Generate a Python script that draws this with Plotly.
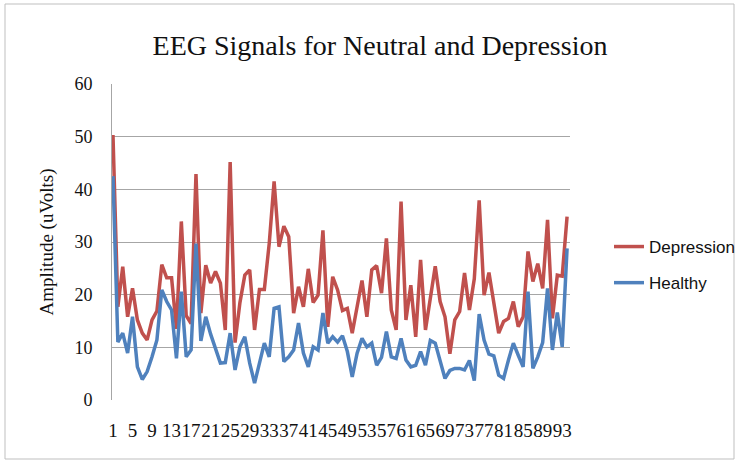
import plotly.graph_objects as go

# ---- data ----
sample_index = list(range(1, 95))
depression = [50.3, 17.7, 25.3, 15.8, 21.2, 15.2, 12.7, 11.4, 15.2, 16.9,
              25.7, 23.2, 23.2, 13.5, 33.9, 16.0, 14.5, 42.9, 16.5, 25.6,
              22.2, 24.4, 22.2, 13.3, 45.2, 10.9, 18.5, 23.7, 24.7, 13.3,
              21.0, 21.0, 29.7, 41.5, 29.1, 33.0, 31.0, 16.5, 21.5, 17.7,
              24.9, 18.5, 19.9, 32.2, 13.9, 23.4, 20.9, 17.0, 17.4, 12.7,
              17.7, 22.7, 15.8, 24.7, 25.5, 20.3, 30.7, 17.1, 13.3, 37.7,
              15.2, 21.8, 12.0, 26.6, 13.3, 19.0, 25.4, 18.7, 15.8, 8.8,
              15.2, 16.8, 24.1, 17.1, 23.0, 37.9, 19.9, 24.2, 18.7, 12.7,
              14.9, 15.5, 18.7, 13.9, 15.8, 28.2, 22.5, 25.9, 21.2, 34.2,
              15.5, 23.7, 23.5, 34.8]
healthy = [42.5, 11.0, 12.7, 8.9, 15.8, 6.3, 3.9, 5.4, 8.2, 11.4,
           20.9, 18.7, 17.1, 7.9, 20.6, 8.2, 9.5, 29.7, 11.2, 15.8,
           12.5, 9.5, 7.0, 7.1, 12.7, 5.7, 10.1, 12.0, 7.0, 3.2,
           6.8, 10.8, 8.2, 17.4, 17.7, 7.3, 8.2, 9.5, 14.6, 8.9,
           6.3, 10.1, 9.5, 16.5, 10.8, 12.0, 11.0, 12.2, 9.2, 4.4,
           8.9, 11.7, 10.1, 10.8, 6.6, 8.1, 13.0, 8.2, 7.9, 11.7,
           7.6, 6.3, 6.6, 9.2, 6.6, 11.3, 10.8, 7.6, 4.1, 5.6,
           6.0, 6.0, 5.7, 7.5, 3.7, 16.3, 11.4, 8.7, 8.4, 4.7,
           4.1, 7.6, 10.8, 8.5, 6.3, 20.6, 6.0, 8.2, 10.9, 21.2,
           9.5, 16.6, 10.1, 28.8]
tick_values = list(range(1, 95, 4))
tick_labels = [str(v) for v in tick_values]

W, H = 741, 461
L, R, T, B = 112, 570, 84, 400
pw, ph = R - L, B - T

fig = go.Figure()
fig.add_trace(go.Scatter(x=sample_index, y=depression, mode="lines", name="Depression",
                         line=dict(color="#C0504D", width=3.5), legendgroup="a"))
fig.add_trace(go.Scatter(x=sample_index, y=healthy, mode="lines", name="Healthy",
                         line=dict(color="#4F81BD", width=3.5), legendgroup="b"))

serif = "Liberation Serif, Times New Roman, serif"

fig.update_layout(
    width=W, height=H,
    margin=dict(l=L, r=W - R, t=T, b=H - B, pad=0, autoexpand=False),
    paper_bgcolor="white", plot_bgcolor="white",
    title=dict(text="EEG Signals for Neutral and Depression",
               font=dict(family=serif, size=28, color="#111111"),
               x=380 / W, xanchor="center", y=1 - 45 / H, yanchor="middle"),
    legend=dict(x=(609 - L) / pw, xanchor="left", y=(B - 265) / ph, yanchor="middle",
                font=dict(family="Liberation Sans, Arial, sans-serif", size=17, color="#111111"),
                tracegroupgap=11, bgcolor="rgba(0,0,0,0)"),
    showlegend=True,
)
fig.update_xaxes(range=[0.8, 94.6], tickmode="array", tickvals=tick_values, ticktext=tick_labels,
                 showgrid=False, zeroline=False, showline=False, ticks="",
                 ticklabelstandoff=17, tickangle=0,
                 tickfont=dict(family=serif, size=19, color="#111111"))
fig.update_yaxes(range=[0, 60], dtick=10, showgrid=True, gridcolor="#A6A6A6", gridwidth=1,
                 zeroline=False, showline=True, linecolor="#A6A6A6", linewidth=1, ticks="",
                 ticklabelstandoff=15,
                 tickfont=dict(family=serif, size=18, color="#111111"),
                 title=dict(text="Amplitude (uVolts)", font=dict(family=serif, size=19, color="#111111"),
                            standoff=15))
# chart-area border
fig.add_shape(type="rect", xref="paper", yref="paper",
              x0=(5 - L) / pw, x1=(734 - L) / pw, y0=(B - 459) / ph, y1=(B - 4) / ph,
              line=dict(color="#BFBFBF", width=1), layer="below")

fig.write_html("out.html")
